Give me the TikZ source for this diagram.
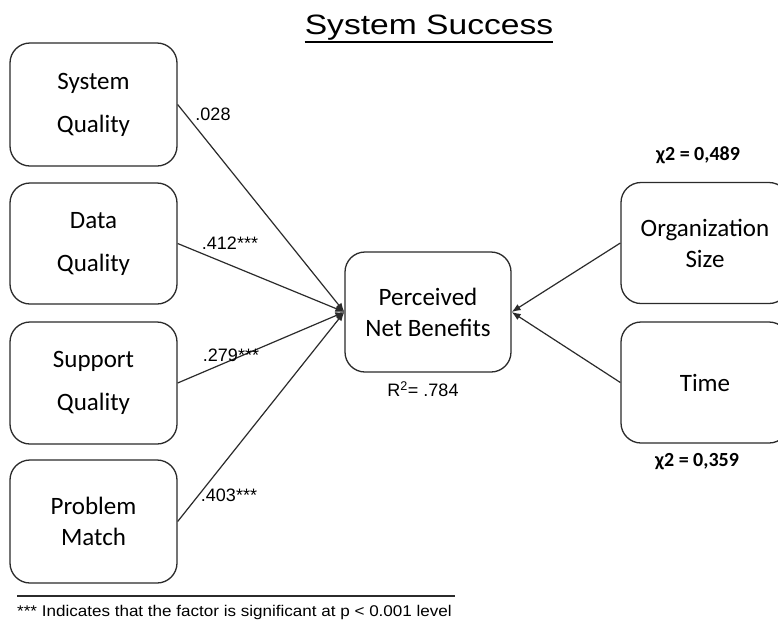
\documentclass[tikz,border=0pt]{standalone}
\usepackage{fontspec}
\setmainfont{Carlito}
\newfontfamily\arial{Liberation Sans}
\usetikzlibrary{arrows.meta}
\definecolor{ink}{HTML}{2B2B2B}
\tikzset{
  box/.style={draw=ink, line width=1.3pt, rounded corners=20pt, minimum width=167pt, inner sep=0pt, align=center, text=black},
  wide/.style={font=\fontsize{25}{43}\selectfont},
  tight/.style={font=\fontsize{25}{31}\selectfont},
  link/.style={draw=ink, line width=1.2pt, -{Latex[length=9pt,width=7pt]}},
  coef/.style={font=\arial\fontsize{18}{20}\selectfont, inner sep=0pt},
  chi/.style={font=\bfseries\fontsize{20}{22}\selectfont, inner sep=0pt}
}
\begin{document}
\begin{tikzpicture}[x=1pt,y=-1pt]
\clip (0,0) rectangle (778,622);
\fill[white] (0,0) rectangle (778,622);
% title
\node[font=\arial\fontsize{28}{30}\selectfont, inner sep=0pt, anchor=base] (title) at (429,34) {\scalebox{1.2}[1]{System Success}};
\draw[line width=2pt] ([yshift=-8pt]title.base west) -- ([yshift=-8pt]title.base east);
% left boxes
\node[box, wide, minimum height=123pt] (sq) at (93.5,104.5) {System\\Quality};
\node[box, wide, minimum height=121pt] (dq) at (93.5,243.5) {Data\\Quality};
\node[box, wide, minimum height=122pt] (suq) at (93.5,383) {Support\\Quality};
\node[box, tight, minimum height=123pt] (pm) at (93.5,521.5) {Problem\\Match};
% center
\node[box, tight, minimum width=166pt, minimum height=120pt] (pnb) at (428,312) {Perceived\\Net Benefits};
% right boxes
\node[box, tight, minimum width=168pt, minimum height=121pt] (os) at (705,243) {Organization\\Size};
\node[box, tight, minimum width=168pt, minimum height=121pt] (tm) at (705,382.5) {Time};
% connectors
\draw[link] (sq.east) -- (pnb.west);
\draw[link] (dq.east) -- (pnb.west);
\draw[link] (suq.east) -- (pnb.west);
\draw[link] (pm.east) -- (pnb.west);
\draw[link] (os.west) -- (pnb.east);
\draw[link] (tm.west) -- (pnb.east);
% labels
\node[coef] (l1) at (213,114) {.028};
\node[coef] (l2) at (230,243) {.412***};
\node[coef] (l3) at (231,355) {.279***};
\node[coef] (l4) at (229,495) {.403***};
\node[coef] (r2) at (423,389) {R\textsuperscript{2}= .784};
\node[chi] (c1) at (698,155) {χ2 = 0,489};
\node[chi] (c2) at (697,462) {χ2 = 0,359};
% footer
\coordinate (fl) at (17,596);
\coordinate (fr) at (455,596);
\draw[color=ink, line width=1.3pt] (fl) -- (fr);
\node[font=\arial\fontsize{15.5}{17}\selectfont, inner sep=0pt, anchor=west] (foot) at (17,612) {\scalebox{1.1}[1]{*** Indicates that the factor is significant at p < 0.001 level}};
\end{tikzpicture}
\end{document}
